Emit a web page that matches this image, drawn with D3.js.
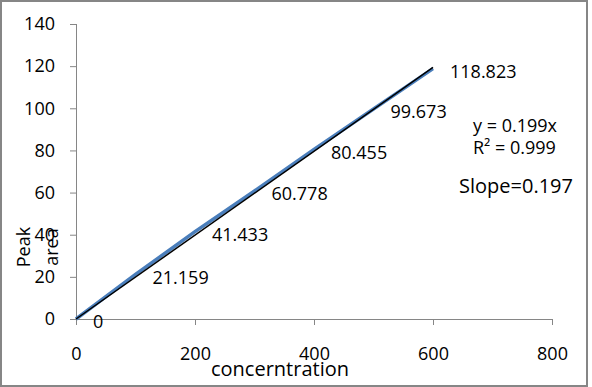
<!DOCTYPE html>
<html>
<head>
<meta charset="utf-8">
<script src="https://cdn.jsdelivr.net/npm/d3@7"></script>
<style>
  body { margin: 0; background: #fff; }
  text { font-family: "Open Sans", sans-serif; fill: #000; }
</style>
</head>
<body>
<div class="chart"></div>
<script>
// values
var concentration = [0, 100, 200, 300, 400, 500, 600];
var peakArea = [0, 21.159, 41.433, 60.778, 80.455, 99.673, 118.823];
var pointLabels = ["0", "21.159", "41.433", "60.778", "80.455", "99.673", "118.823"];
var xTicks = [0, 200, 400, 600, 800];
var yTicks = [0, 20, 40, 60, 80, 100, 120, 140];
var trendSlope = 0.199;
var trendRange = [0, 600];
var equationLines = ["y = 0.199x", "R\u00b2 = 0.999"];
var slopeNote = "Slope=0.197";

var svgWidth = 592;
var svgHeight = 387;

var plot = { left: 76, right: 552, top: 24, bottom: 319 };

var svg = d3.select(".chart")
    .append("svg")
    .attr("width", svgWidth)
    .attr("height", svgHeight);

// outer frame
svg.append("rect")
    .attr("x", 1)
    .attr("y", 1)
    .attr("width", 586)
    .attr("height", 385)
    .attr("fill", "#fff")
    .attr("stroke", "#868686")
    .attr("stroke-width", 2);

var xScale = d3.scaleLinear()
    .domain([0, 800])
    .range([plot.left, plot.right]);
var yScale = d3.scaleLinear()
    .domain([0, 140])
    .range([plot.bottom, plot.top]);

var bottomAxis = d3.axisBottom(xScale).tickValues(xTicks).tickSize(6).tickPadding(22);
var leftAxis = d3.axisLeft(yScale).tickValues(yTicks).tickSize(6).tickPadding(15);

var gx = svg.append("g")
    .attr("transform", `translate(0, ${plot.bottom})`)
    .call(bottomAxis);
var gy = svg.append("g")
    .attr("transform", `translate(${plot.left}, 0)`)
    .call(leftAxis);

[gx, gy].forEach(function(g) {
    g.selectAll("path, line").attr("stroke", "#868686").attr("stroke-width", 1);
    g.select(".domain").attr("d", g === gx
        ? `M${plot.left},0.5H${plot.right}`
        : `M0.5,${plot.bottom}V${plot.top}`);
    g.selectAll("text")
        .style("font-family", "'Open Sans', sans-serif")
        .style("font-size", "18px")
        .attr("fill", "#000");
});

// data series line
var line = d3.line()
    .x((d, i) => xScale(concentration[i]))
    .y(d => yScale(d));

svg.append("path")
    .datum(peakArea)
    .attr("fill", "none")
    .attr("stroke", "#4a7ebb")
    .attr("stroke-width", 3.5)
    .attr("d", line);

// linear trendline
svg.append("line")
    .attr("x1", xScale(trendRange[0]))
    .attr("y1", yScale(trendSlope * trendRange[0]))
    .attr("x2", xScale(trendRange[1]))
    .attr("y2", yScale(trendSlope * trendRange[1]))
    .attr("stroke", "#000")
    .attr("stroke-width", 1.5);

// data labels
svg.append("g").selectAll("text")
    .data(peakArea)
    .enter()
    .append("text")
    .attr("x", (d, i) => xScale(concentration[i]) + 17)
    .attr("y", d => yScale(d) + 3)
    .attr("dy", "0.35em")
    .style("font-size", "18px")
    .text((d, i) => pointLabels[i]);

// trendline equation
svg.append("g").selectAll("text")
    .data(equationLines)
    .enter()
    .append("text")
    .attr("x", 473)
    .attr("y", (d, i) => 126 + i * 22)
    .attr("dy", "0.35em")
    .style("font-size", "18px")
    .text(d => d);

svg.append("text")
    .attr("x", 459)
    .attr("y", 186)
    .attr("dy", "0.35em")
    .style("font-size", "20px")
    .text(slopeNote);

// axis titles
svg.append("text")
    .attr("x", 280)
    .attr("y", 376)
    .attr("text-anchor", "middle")
    .style("font-size", "20px")
    .text("concerntration");

var yTitle = svg.append("text")
    .attr("transform", "translate(30, 247) rotate(-90)")
    .attr("text-anchor", "middle")
    .style("font-size", "18px");
yTitle.append("tspan").attr("x", 0).attr("y", 0).text("Peak");
yTitle.append("tspan").attr("x", 0).attr("y", 28).text("area");
</script>
</body>
</html>
